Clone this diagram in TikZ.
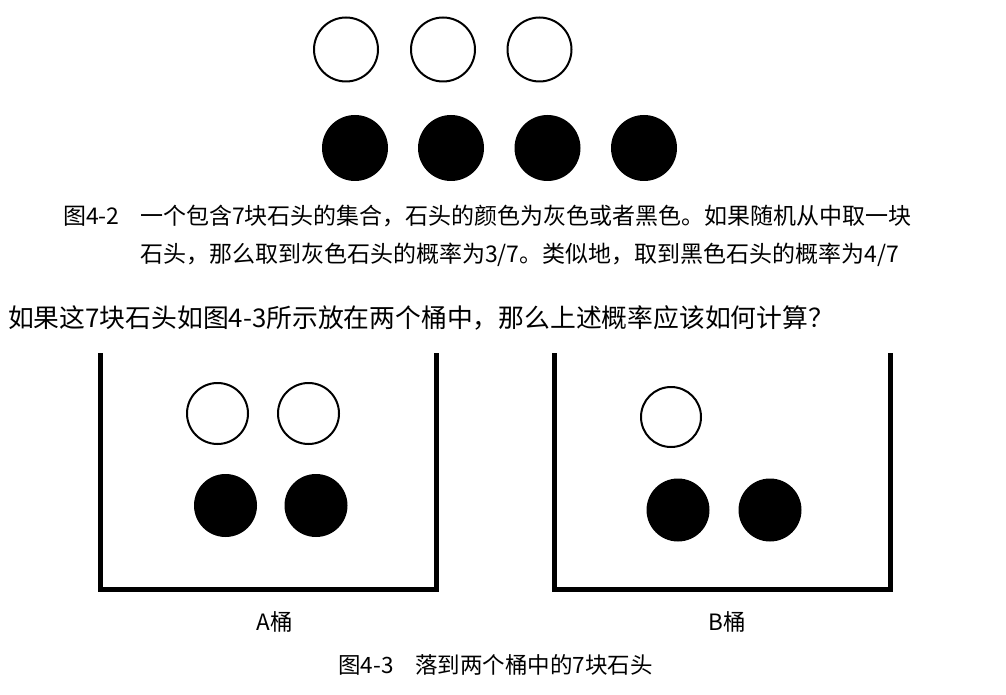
\documentclass[tikz,border=0pt]{standalone}
\usepackage{fontspec}
\setmainfont{Noto Sans CJK SC}
\begin{document}
\begin{tikzpicture}[x=1pt,y=-1pt,
  stonew/.style={circle,draw=black,line width=2pt,fill=white,inner sep=0pt},
  stoneb/.style={circle,draw=none,fill=black,inner sep=0pt},
  bucket/.style={line width=5pt,miter limit=10},
  captext/.style={anchor=west,inner sep=0pt,font=\fontsize{23}{27}\selectfont},
  qtext/.style={anchor=west,inner sep=0pt,font=\fontsize{25.8}{31}\selectfont},
  lbl/.style={inner sep=0pt,font=\fontsize{22.5}{27}\selectfont}]
\useasboundingbox (0,0) rectangle (1006,695);
\fill[white] (0,0) rectangle (1006,695);
% Fig 4-2 stones
\node[stonew,minimum size=64pt] (w1) at (346,49.5) {};
\node[stonew,minimum size=64pt] (w2) at (443,49.5) {};
\node[stonew,minimum size=64pt] (w3) at (539.5,49.5) {};
\node[stoneb,minimum size=66pt] (b1) at (355,148) {};
\node[stoneb,minimum size=66pt] (b2) at (451,148) {};
\node[stoneb,minimum size=66pt] (b3) at (547.5,148) {};
\node[stoneb,minimum size=66pt] (b4) at (644,148) {};
% captions
\node[captext] (c1a) at (63,216) {图4-2};
\node[captext] (c1b) at (140,216) {一个包含7块石头的集合，石头的颜色为灰色或者黑色。如果随机从中取一块};
\node[captext] (c2) at (140,255) {石头，那么取到灰色石头的概率为3/7。类似地，取到黑色石头的概率为4/7};
\node[qtext] (q) at (8,318) {如果这7块石头如图4-3所示放在两个桶中，那么上述概率应该如何计算？};
% bucket A
\draw[bucket] (100,353) -- (100,589) -- (436.5,589) -- (436.5,353);
\node[stonew,minimum size=61pt] (aw1) at (217.5,413.5) {};
\node[stonew,minimum size=61pt] (aw2) at (308.5,413.5) {};
\node[stoneb,minimum size=63pt] (ab1) at (225.5,505.5) {};
\node[stoneb,minimum size=63pt] (ab2) at (316,505.5) {};
% bucket B
\draw[bucket] (554.5,353) -- (554.5,589) -- (890,589) -- (890,353);
\node[stonew,minimum size=60pt] (bw1) at (671,417) {};
\node[stoneb,minimum size=63pt] (bb1) at (678,510) {};
\node[stoneb,minimum size=63pt] (bb2) at (770,510) {};
% labels
\node[lbl] (la) at (275,622) {A桶};
\node[lbl] (lb) at (727,622) {B桶};
\node[lbl,anchor=west] (c3a) at (338,665) {图4-3};
\node[lbl,anchor=west] (c3b) at (415,665) {落到两个桶中的7块石头};
\end{tikzpicture}
\end{document}
